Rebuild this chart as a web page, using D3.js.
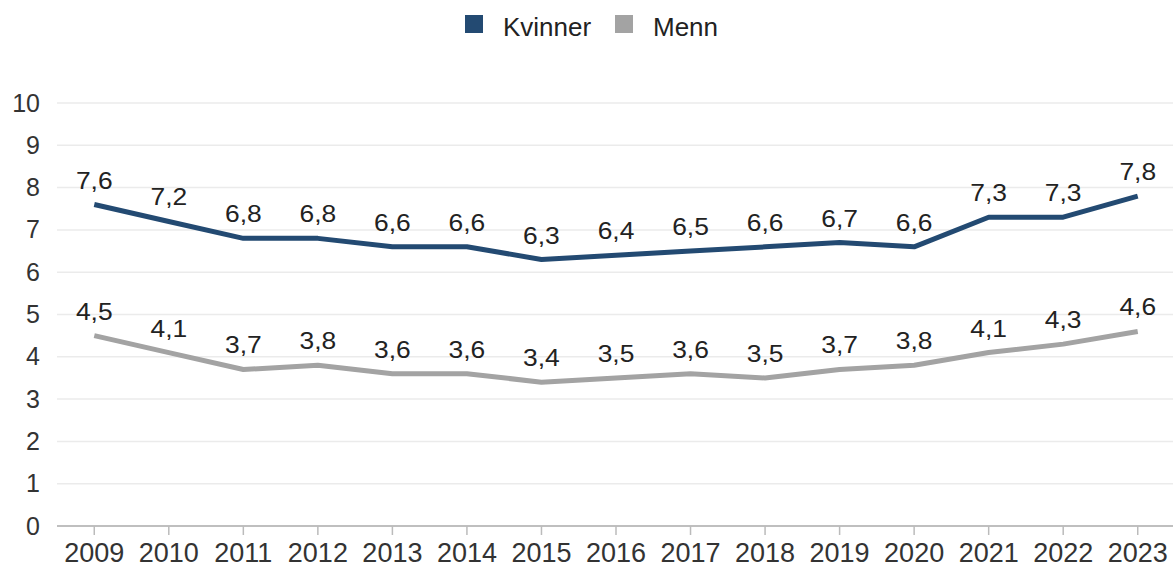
<!DOCTYPE html>
<html>
<head>
<meta charset="utf-8">
<script src="https://cdn.jsdelivr.net/npm/d3@7"></script>
<style>
  html, body { margin: 0; padding: 0; background: #fff; }
  svg { display: block; font-family: "Liberation Sans", Arial, sans-serif; }
</style>
</head>
<body>
<svg id="chart" width="1173" height="567"></svg>
<script>
const years = ["2009","2010","2011","2012","2013","2014","2015","2016","2017","2018","2019","2020","2021","2022","2023"];
const kvinner = [7.6,7.2,6.8,6.8,6.6,6.6,6.3,6.4,6.5,6.6,6.7,6.6,7.3,7.3,7.8];
const menn = [4.5,4.1,3.7,3.8,3.6,3.6,3.4,3.5,3.6,3.5,3.7,3.8,4.1,4.3,4.6];
const yTicks = [0,1,2,3,4,5,6,7,8,9,10];
const seriesNames = ["Kvinner","Menn"];
const seriesColors = ["#234a72","#a3a3a3"];

const svg = d3.select("#chart");
const x = d3.scaleBand().domain(years).range([57, 1175]);
const y = d3.scaleLinear().domain([0, 10]).range([526, 103]);
const fmt = v => d3.format(".1f")(v).replace(".", ",");

// gridlines
svg.append("g").selectAll("line").data(yTicks.filter(d => d > 0)).join("line")
  .attr("x1", 57).attr("x2", 1173)
  .attr("y1", d => y(d)).attr("y2", d => y(d))
  .attr("stroke", "#ebebeb").attr("stroke-width", 1.5);

// y axis labels
const yAxis = d3.axisLeft(y).tickValues(yTicks).tickSize(0).tickPadding(0).tickFormat(d3.format("d"));
const gy = svg.append("g").attr("transform", "translate(40,0)").call(yAxis);
gy.select(".domain").remove();
gy.selectAll("text").attr("font-size", 25).attr("fill", "#333").attr("font-family", "Liberation Sans, Arial, sans-serif");

// x axis
const xAxis = d3.axisBottom(x).tickSize(9).tickPadding(8);
const gx = svg.append("g").attr("transform", `translate(0,${y(0)})`).call(xAxis);
gx.select(".domain").attr("stroke", "#aaa").attr("stroke-width", 1.5).attr("d", `M57,0H1173`);
gx.selectAll(".tick line").attr("stroke", "#bbb").attr("stroke-width", 1.5);
gx.selectAll("text").attr("font-size", 27).attr("fill", "#333").attr("font-family", "Liberation Sans, Arial, sans-serif");

const cx = d => x(d) + x.bandwidth() / 2;
const line = d3.line().x((d, i) => cx(years[i])).y(d => y(d));

[kvinner, menn].forEach((vals, si) => {
  svg.append("path").datum(vals)
    .attr("d", line).attr("fill", "none")
    .attr("stroke", seriesColors[si]).attr("stroke-width", 5)
    .attr("stroke-linejoin", "round");
  svg.append("g").selectAll("text").data(vals).join("text")
    .attr("x", (d, i) => cx(years[i]))
    .attr("y", d => y(d) - 16)
    .attr("text-anchor", "middle")
    .attr("font-size", 24)
    .attr("fill", "#222")
    .attr("transform", (d, i) => `translate(${cx(years[i])},0) scale(1.1,1) translate(${-cx(years[i])},0)`)
    .text(fmt);
});

// legend
const legend = svg.append("g");
const legX = [465, 615];
seriesNames.forEach((n, i) => {
  legend.append("rect").attr("x", legX[i]).attr("y", 15).attr("width", 18).attr("height", 18).attr("fill", seriesColors[i]);
  legend.append("text").attr("x", legX[i] + 38).attr("y", 36).attr("font-size", 26).attr("fill", "#222").text(n);
});
</script>
</body>
</html>
